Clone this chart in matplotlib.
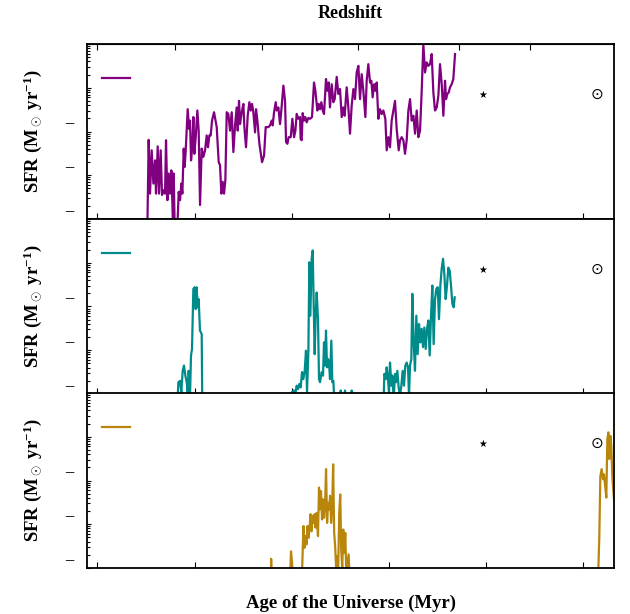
import numpy as np
import matplotlib
matplotlib.use("Agg")
import matplotlib.pyplot as plt
import matplotlib.transforms as mtransforms
from matplotlib.ticker import LogLocator, NullFormatter

plt.rcParams["font.family"] = ["Liberation Serif", "DejaVu Serif"]
plt.rcParams["font.weight"] = "bold"
plt.rcParams["mathtext.fontset"] = "custom"
plt.rcParams["mathtext.rm"] = "Liberation Serif:bold"
plt.rcParams["mathtext.it"] = "Liberation Serif:bold"
plt.rcParams["mathtext.bf"] = "Liberation Serif:bold"

# age of the universe (Myr) and log10 SFR (Msun/yr)
age_purple = [
    302.6, 305.3, 308.1, 311.5, 315.0, 318.4, 320.4, 323.9, 326.6, 330.0,
    332.8, 335.5, 339.0, 341.0, 343.8, 346.5, 349.2, 352.0, 354.0, 355.4,
    356.8, 358.8, 364.3, 367.1, 369.8, 372.6, 374.6, 377.4, 379.4, 381.5,
    385.6, 388.3, 390.4, 392.5, 395.2, 397.3, 399.3, 402.1, 405.5, 408.2,
    411.0, 414.4, 417.8, 421.3, 424.7, 427.4, 430.2, 432.9, 435.7, 439.8,
    445.3, 449.4, 452.1, 454.9, 457.6, 460.4, 463.1, 465.9, 469.3, 472.7,
    476.2, 479.6, 483.0, 486.4, 488.5, 491.2, 493.3, 496.7, 500.2, 502.2,
    505.6, 509.1, 512.5, 515.3, 518.0, 520.7, 524.2, 526.2, 529.0, 533.1,
    538.6, 542.7, 546.1, 551.6, 555.0, 558.5, 560.5, 563.3, 566.7, 568.8,
    572.2, 575.6, 579.1, 582.5, 585.9, 588.0, 590.7, 593.4, 597.6, 601.0,
    604.4, 607.2, 609.9, 613.3, 616.8, 618.0, 620.1, 622.2, 624.9, 627.7,
    630.4, 633.9, 637.3, 641.4, 645.5, 648.3, 652.4, 655.1, 657.9, 660.6,
    663.4, 666.1, 670.2, 673.0, 675.7, 678.4, 681.9, 685.3, 688.1, 692.2,
    695.6, 699.0, 702.5, 705.9, 708.6, 712.7, 716.2, 719.6, 723.0, 726.5,
    729.9, 733.3, 736.8, 740.2, 743.6, 747.0, 751.2, 753.9, 757.3, 760.8,
    763.5, 766.2, 769.0, 771.7, 774.5, 777.9, 781.3, 784.8, 788.2, 792.3,
    795.1, 798.5, 801.9, 805.3, 808.8, 812.2, 815.6, 819.8, 822.5, 825.9,
    829.4, 832.8, 836.2, 839.7, 843.1, 846.5, 850.0, 853.4, 856.8, 860.2,
    863.7, 867.1, 870.5, 874.0, 877.4, 880.8, 884.2, 887.7, 891.1, 894.5,
    898.0, 901.4, 904.8, 908.3, 911.7, 915.1, 917.2, 919.9, 922.6, 925.4,
    928.8, 932.2, 935.7,
]
logsfr_purple = [
    -3.2, -1.19, -2.42, -1.43, -2.19, -1.66, -2.42, -1.34, -2.42, -1.43,
    -2.45, -2.34, -2.42, -1.20, -2.57, -1.96, -2.42, -1.89, -2.61, -3.2,
    -1.96, -3.2, -3.2, -2.38, -2.57, -2.19, -2.42, -1.39, -1.81, -1.43,
    -0.49, -0.94, -0.75, -1.66, -1.32, -0.67, -1.51, -1.13, -0.52, -0.98,
    -2.68, -1.39, -1.58, -1.43, -1.09, -1.36, -1.09, -1.09, -0.75, -0.56,
    -0.90, -1.70, -1.77, -2.42, -2.15, -2.42, -2.11, -0.56, -0.60, -0.98,
    -0.56, -1.47, -0.86, -0.45, -0.98, -0.30, -0.83, -0.56, -0.37, -0.90,
    -1.36, -0.64, -0.33, -0.52, -0.37, -0.56, -1.02, -0.49, -0.75, -1.28,
    -1.70, -1.55, -0.90, -0.90, -0.86, -0.75, -0.86, -0.56, -0.33, -0.52,
    -0.45, -0.83, -0.41, 0.05, -0.30, -1.24, -1.28, -1.13, -1.13, -0.71,
    -1.13, -0.98, -0.60, -0.71, -0.67, -1.17, -1.20, -0.58, -0.75, -0.67,
    -0.79, -0.69, -0.71, -0.67, 0.12, -0.07, -0.52, -0.37, -0.49, -0.33,
    -0.52, -0.60, 0.20, -0.07, 0.12, -0.45, 0.08, -0.33, -0.26, 0.25,
    -0.14, -0.03, -0.67, -0.45, -0.64, 0.01, -0.45, -1.05, -0.41, -0.03,
    -0.26, 0.35, 0.50, -0.26, 0.31, -0.07, -0.67, 0.16, 0.54, 0.12,
    0.16, -0.22, 0.08, -0.07, 0.12, -0.71, -0.49, -0.60, -0.52, -0.71,
    -1.43, -1.13, -1.36, -0.75, -0.52, -0.30, -0.94, -1.43, -1.20, -1.13,
    -1.20, -1.51, -1.20, -0.52, -0.26, -0.75, -0.64, -1.05, -0.52, -1.13,
    -0.98, -0.07, 1.0, 0.35, 0.58, 0.50, 0.54, 0.77, -0.11, -0.52,
    -0.45, -0.18, 0.54, 0.08, -0.64, 0.16, -0.26, -0.14, -0.11, 0.01,
    0.08, 0.20, 0.77,
]

age_teal = [
    364.3, 366.4, 369.8, 372.5, 375.3, 378.0, 380.8, 383.5, 385.6, 387.6,
    390.4, 392.4, 394.5, 397.2, 400.0, 402.0, 404.1, 406.1, 408.2, 410.9,
    414.4, 415.7, 596.1, 599.6, 604.4, 607.1, 609.8, 612.6, 615.3, 618.1,
    620.8, 623.6, 626.3, 629.0, 631.1, 633.9, 635.9, 638.0, 640.7, 642.8,
    644.8, 646.9, 648.9, 651.0, 653.7, 655.8, 657.9, 661.3, 664.0, 666.1,
    668.1, 670.2, 672.3, 674.3, 676.4, 678.4, 681.2, 683.2, 685.3, 688.0,
    699.0, 700.4, 701.8, 707.9, 709.3, 710.7, 721.6, 723.0, 724.4, 788.2,
    790.3, 793.0, 795.0, 797.1, 799.8, 801.9, 804.6, 806.7, 809.4, 812.2,
    814.2, 817.0, 819.7, 822.5, 825.2, 827.9, 830.7, 833.4, 836.2, 838.9,
    841.0, 843.1, 845.8, 847.8, 850.6, 853.3, 856.1, 858.8, 861.6, 864.3,
    867.0, 869.8, 872.5, 875.3, 878.0, 880.8, 883.5, 886.3, 889.0, 891.7,
    894.5, 897.2, 900.0, 902.7, 905.5, 908.2, 911.0, 913.7, 916.4, 919.2,
    921.9, 924.7, 927.4, 930.2, 932.9, 935.0,
]
logsfr_teal = [
    -3.3, -2.73, -2.70, -2.96, -2.47, -2.35, -2.58, -2.73, -2.96, -2.47,
    -3.04, -2.12, -1.97, -0.60, -0.56, -1.06, -0.56, -1.02, -0.83, -1.55,
    -1.63, -3.3, -3.3, -2.96, -2.92, -3.0, -2.81, -2.89, -2.77, -2.85,
    -2.50, -2.66, -2.47, -2.01, -2.96, -2.05, 0.01, -1.21, 0.09, 0.28,
    -0.91, -2.09, -1.21, -0.68, -1.29, -2.66, -2.73, -2.50, -2.58, -1.82,
    -2.35, -1.55, -2.39, -2.20, -2.28, -2.66, -1.78, -2.73, -2.70, -3.3,
    -3.3, -2.92, -3.3, -3.3, -2.92, -3.3, -3.3, -2.92, -3.3, -3.3,
    -2.54, -2.66, -2.39, -2.58, -2.96, -2.28, -2.81, -2.58, -3.11, -2.54,
    -2.73, -2.47, -2.85, -3.04, -2.81, -2.47, -2.81, -2.35, -2.28, -2.39,
    -3.04, -2.35, -2.20, -0.71, -1.82, -2.47, -1.21, -2.09, -1.40, -1.82,
    -1.51, -1.93, -1.48, -1.97, -1.51, -1.32, -2.12, -1.21, -0.52, -1.86,
    -0.83, -0.60, -0.56, -1.29, -0.52, -0.14, 0.09, -0.26, -0.83, -0.52,
    -0.11, -0.18, -0.52, -0.94, -1.02, -0.79,
]

age_gold = [
    556.6, 557.3, 558.7, 596.1, 598.2, 600.3, 601.7, 620.4, 622.5, 623.9,
    625.9, 628.0, 630.1, 632.2, 634.3, 636.3, 638.4, 640.5, 642.6, 644.7,
    646.7, 648.8, 650.9, 653.7, 655.8, 657.8, 659.9, 662.0, 664.1, 666.2,
    668.2, 670.3, 672.4, 674.5, 676.6, 678.6, 680.7, 682.8, 684.9, 687.0,
    689.0, 691.1, 693.2, 695.3, 697.4, 699.5, 701.5, 703.6, 705.7, 707.8,
    709.9, 711.9, 716.8, 718.9, 1229.9, 1232.6, 1234.7, 1237.4, 1240.2, 1242.2,
    1244.3, 1247.0, 1249.1, 1251.2, 1253.2, 1255.3, 1257.3, 1259.4, 1262.8,
]
logsfr_gold = [
    -3.3, -2.79, -3.3, -3.3, -2.62, -2.88, -3.3, -3.3, -2.50, -2.04,
    -2.54, -2.27, -2.46, -2.04, -2.31, -2.08, -1.77, -2.16, -1.81, -1.97,
    -1.77, -2.08, -1.74, -2.27, -1.16, -1.66, -1.24, -1.89, -1.43, -1.85,
    -1.58, -0.74, -1.97, -1.51, -1.66, -1.35, -1.97, -1.62, -0.63, -2.20,
    -2.50, -3.0, -2.73, -3.04, -1.74, -1.32, -2.58, -3.0, -2.12, -2.65,
    -2.20, -3.11, -2.69, -3.3, -3.3, -2.27, -0.90, -0.74, -0.97, -0.86,
    -1.09, -1.39, -0.06, 0.10, -0.51, 0.02, -0.21, -0.93, -1.43,
]

series = [
    (age_purple, logsfr_purple, "#800080"),
    (age_teal, logsfr_teal, "#008b8b"),
    (age_gold, logsfr_gold, "#b8860b"),
]

age_ticks = [200, 400, 600, 800, 1000, 1200]
redshift_tick_ages = [200, 359, 538, 736, 944, 1089]
decades = [1e-3, 1e-2, 1e-1, 1e0, 1e1]
labelled_decades = [1e-3, 1e-2, 1e-1]

fig = plt.figure(figsize=(6.30, 6.14), dpi=100)
left, width = 87 / 630, 527 / 630
height = 175 / 614
bottoms = [1 - 219 / 614, 1 - 394 / 614, 1 - 568 / 614]

shift_up = mtransforms.ScaledTranslation(0, 0.08, fig.dpi_scale_trans)

axes = []
for i, (age, logsfr, color) in enumerate(series):
    ax = fig.add_axes([left, bottoms[i], width, height])
    ax.plot(age, 10 ** np.array(logsfr), color=color, lw=1.6, label=" ")
    ax.set_yscale("log")
    ax.set_xlim(178.4, 1262.8)
    ax.set_ylim(1e-3, 1e1)

    ax.set_yticks(decades)
    ax.yaxis.set_minor_locator(LogLocator(base=10, subs=np.arange(2, 10)))
    ax.yaxis.set_minor_formatter(NullFormatter())
    ax.set_yticklabels([""] * len(decades))
    ax.tick_params(axis="y", which="both", direction="in", length=3, width=0.8)
    ax.tick_params(axis="y", which="minor", length=2.5)

    # the tick labels only show up as dashes
    dash_trans = mtransforms.blended_transform_factory(ax.transAxes, ax.transData) + shift_up
    for v in labelled_decades:
        ax.text(-0.025, v, "–", transform=dash_trans, ha="right", va="center",
                fontsize=12, fontweight="bold", clip_on=False)

    ax.set_xticks(age_ticks)
    ax.set_xticklabels([""] * len(age_ticks))
    ax.tick_params(axis="x", direction="in", length=4, width=0.8)

    for sp in ax.spines.values():
        sp.set_linewidth(1.3)

    ax.set_ylabel(r"SFR (M$_\odot$ yr$^{-1}$)", fontsize=13.5, fontweight="bold")
    ax.yaxis.set_label_coords(-0.082, 0.5)

    ax.text(0.751, 0.71, "★", transform=ax.transAxes, ha="center", va="center",
            fontsize=7, family="DejaVu Sans")
    ax.text(0.968, 0.71, "⊙", transform=ax.transAxes, ha="center", va="center",
            fontsize=11, family="DejaVu Sans", fontweight="normal")

    ax.legend(loc="center left", bbox_to_anchor=(0.028, 0.80), frameon=False,
              borderpad=0, borderaxespad=0, handlelength=2.0, handletextpad=0.3, fontsize=10)
    axes.append(ax)

top = axes[0].secondary_xaxis("top")
top.set_xticks(redshift_tick_ages)
top.set_xticklabels([""] * len(redshift_tick_ages))
top.tick_params(direction="in", length=4, width=0.8)

fig.text(350.5 / 630, 1 - 14 / 614, "Redshift", ha="center", va="center", fontsize=13, fontweight="bold")
fig.text(350.5 / 630, 1 - 603 / 614, "Age of the Universe (Myr)", ha="center", va="center",
         fontsize=13.5, fontweight="bold")

fig.savefig("out.png", dpi=100)
